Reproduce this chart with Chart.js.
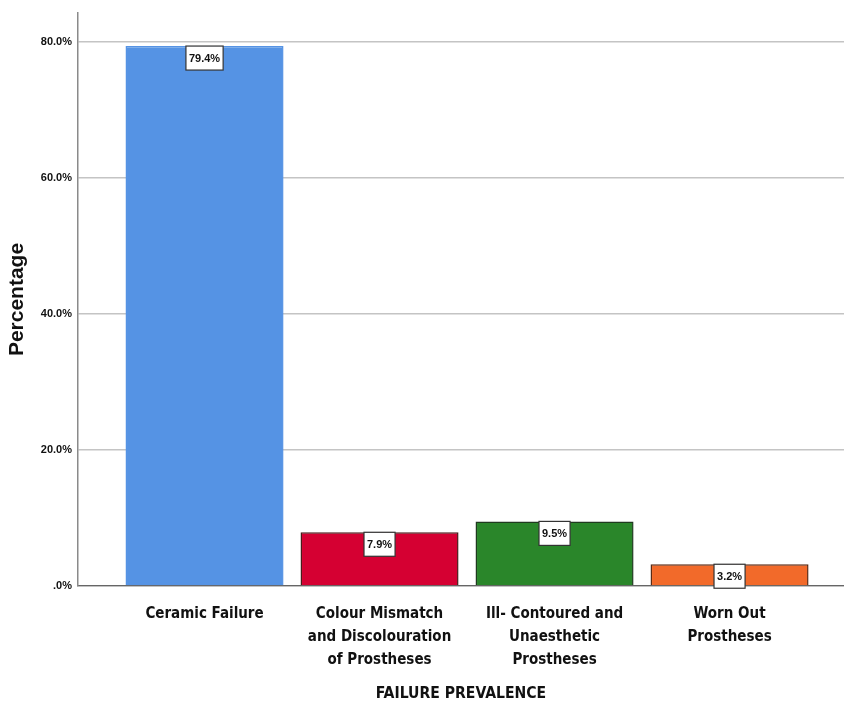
<!DOCTYPE html>
<html lang="en">
<head>
    <meta charset="UTF-8">
    <title>Failure Prevalence</title>
    <script src="https://cdn.jsdelivr.net/npm/chart.js"></script>
    <style>
        body { margin: 0; background: #fff; }
        #wrap { width: 844px; height: 706px; }
    </style>
</head>
<body>
    <div id="wrap"><canvas id="failChart"></canvas></div>

    <script>
        // data
        const categories = [
            ['Ceramic Failure'],
            ['Colour Mismatch', 'and Discolouration', 'of Prostheses'],
            ['Ill- Contoured and', 'Unaesthetic', 'Prostheses'],
            ['Worn Out', 'Prostheses']
        ];
        const percentages = [79.4, 7.9, 9.5, 3.2];
        const yTicks = [0, 20, 40, 60, 80];
        const barColors = ['#5593e4', '#d50032', '#2a862a', '#f26a2a'];
        const barBorders = ['#5593e4', '#4a1a1a', '#1f3a1f', '#5a2a14'];

        const narrow = "'Liberation Sans Narrow', 'DejaVu Sans Condensed', 'Liberation Sans', Arial, sans-serif";
        Chart.defaults.font.family = "'Liberation Sans', Arial, sans-serif";

        // white boxed value labels hanging from the top of each bar
        const valueLabels = {
            id: 'valueLabels',
            afterDatasetsDraw(chart) {
                const ctx = chart.ctx;
                const meta = chart.getDatasetMeta(0);
                ctx.save();
                ctx.font = "bold 11px 'Liberation Sans', Arial, sans-serif";
                ctx.textAlign = 'center';
                ctx.textBaseline = 'middle';
                meta.data.forEach((bar, i) => {
                    const txt = percentages[i].toFixed(1) + '%';
                    const w = ctx.measureText(txt).width + 6;
                    const h = 24;
                    const x = bar.x - w / 2;
                    const y = bar.y;
                    ctx.fillStyle = '#fff';
                    ctx.fillRect(x, y, w, h);
                    ctx.strokeStyle = '#333';
                    ctx.lineWidth = 1.2;
                    ctx.strokeRect(x, y, w, h);
                    ctx.fillStyle = '#111';
                    ctx.fillText(txt, bar.x, y + h / 2 + 1);
                });
                ctx.restore();
            }
        };

        const ctx = document.getElementById('failChart').getContext('2d');
        new Chart(ctx, {
            type: 'bar',
            data: {
                datasets: [{
                    data: percentages.map((v, i) => ({ x: i, y: v })),
                    backgroundColor: barColors,
                    borderColor: barBorders,
                    borderWidth: 1.5,
                    categoryPercentage: 1,
                    barPercentage: 0.903
                }]
            },
            options: {
                responsive: true,
                maintainAspectRatio: false,
                animation: false,
                layout: { padding: { top: 13, right: 0, left: 0, bottom: 0 } },
                plugins: {
                    legend: { display: false },
                    tooltip: { enabled: false }
                },
                scales: {
                    x: {
                        type: 'linear',
                        min: -0.723,
                        max: 3.654,
                        offset: false,
                        grid: { display: false, offset: false },
                        border: { display: true, color: '#666', width: 1.2 },
                        afterBuildTicks: scale => {
                            scale.ticks = categories.map((_, i) => ({ value: i }));
                        },
                        afterFit: scale => { scale.height = 120; },
                        ticks: {
                            autoSkip: false,
                            maxRotation: 0,
                            padding: 9,
                            color: '#111',
                            font: { family: narrow, size: 15, weight: 'bold', lineHeight: 1.53 },
                            callback: value => categories[value]
                        },
                        title: {
                            display: true,
                            text: 'FAILURE PREVALENCE',
                            color: '#111',
                            font: { family: narrow, size: 15.6, weight: 'bold' },
                            padding: { top: 4, bottom: 3 }
                        }
                    },
                    y: {
                        min: 0,
                        max: 84.26,
                        afterBuildTicks: scale => {
                            scale.ticks = yTicks.map(v => ({ value: v }));
                        },
                        afterFit: scale => { scale.width = 78; },
                        grid: { color: '#c4c4c4', lineWidth: 1.5, drawTicks: false },
                        border: { display: true, color: '#8a8a8a', width: 1.5 },
                        ticks: {
                            padding: 6,
                            color: '#111',
                            font: { size: 11, weight: 'bold' },
                            callback: v => (v === 0 ? '.0%' : v.toFixed(1) + '%')
                        },
                        title: {
                            display: true,
                            text: 'Percentage',
                            color: '#111',
                            font: { size: 21, weight: 'bold' },
                            padding: { top: 5, bottom: 0 }
                        }
                    }
                }
            },
            plugins: [valueLabels]
        });
    </script>
</body>
</html>
